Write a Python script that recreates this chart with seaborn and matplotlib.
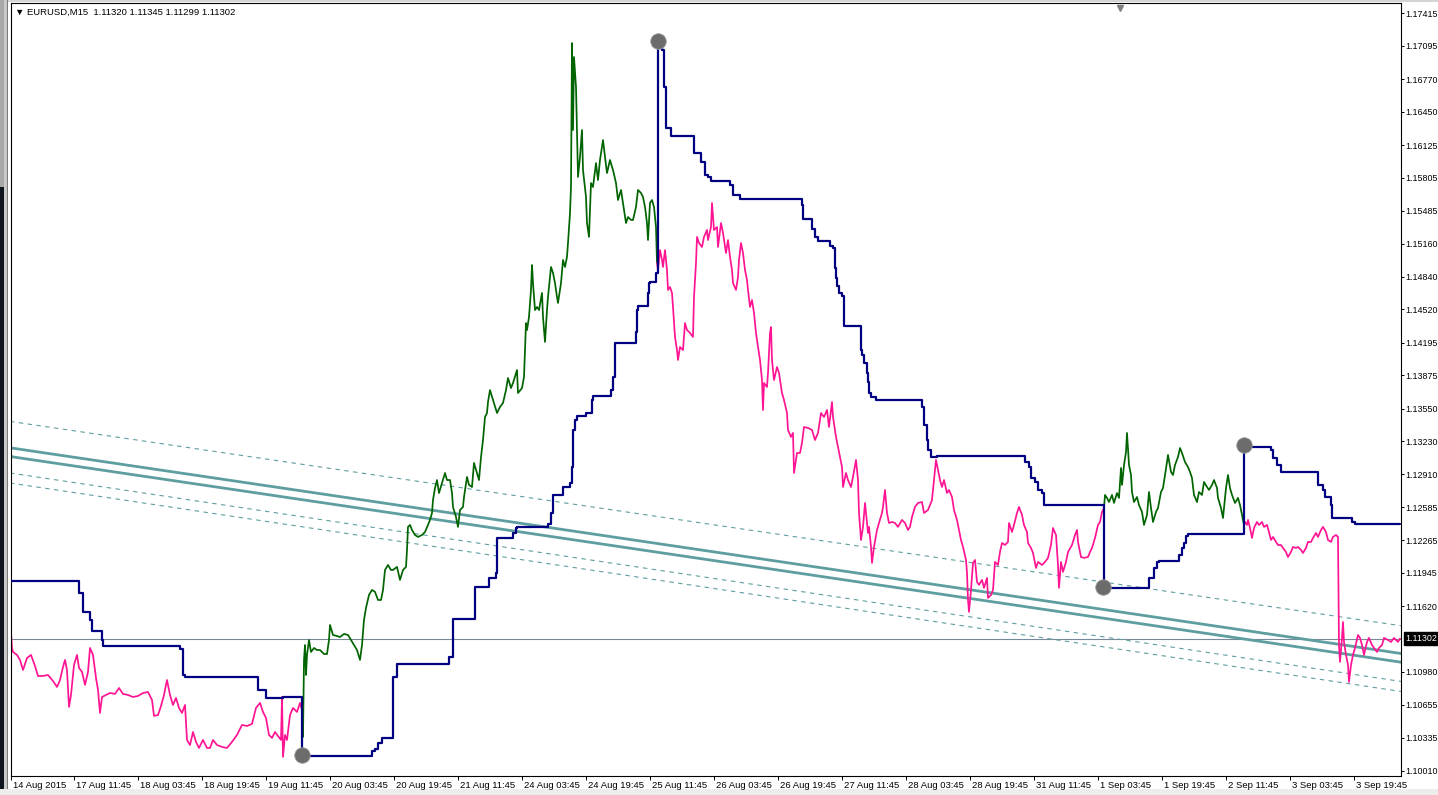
import matplotlib
matplotlib.use("Agg")
import matplotlib.pyplot as plt
import matplotlib.transforms as mtransforms
from matplotlib.patches import Rectangle
import pandas as pd
import seaborn as sns

# ---------------- data: (bar index, price) ----------------
down_leg_1 = [
    (1, 1.11367), (2, 1.11211), (3, 1.11172), (7, 1.11143), (10, 1.11094), (13, 1.10996), (17, 1.11113),
    (21, 1.11143), (25, 1.11035), (28, 1.10937), (33, 1.10937), (38, 1.10947), (43, 1.10888), (47, 1.10830),
    (50, 1.10898), (53, 1.11025), (55, 1.11094), (57, 1.10996), (59, 1.10635), (61, 1.10752), (64, 1.11045),
    (67, 1.11143), (69, 1.11016), (72, 1.10977), (75, 1.10850), (78, 1.10977), (80, 1.11211), (83, 1.11143),
    (86, 1.10918), (88, 1.10801), (90, 1.10576), (92, 1.10732), (96, 1.10752), (100, 1.10771), (105, 1.10762),
    (109, 1.10820), (113, 1.10762), (118, 1.10752), (123, 1.10732), (128, 1.10742), (133, 1.10771),
    (138, 1.10781), (142, 1.10703), (144, 1.10547), (148, 1.10556), (151, 1.10644), (154, 1.10752),
    (157, 1.10898), (160, 1.10752), (163, 1.10654), (166, 1.10723), (169, 1.10625), (172, 1.10576),
    (175, 1.10654), (177, 1.10312), (180, 1.10263), (183, 1.10390), (186, 1.10293), (189, 1.10234),
    (193, 1.10312), (197, 1.10234), (200, 1.10234), (203, 1.10312), (207, 1.10263), (212, 1.10244),
    (217, 1.10234), (222, 1.10293), (227, 1.10361), (232, 1.10459), (237, 1.10449), (242, 1.10469),
    (246, 1.10625), (250, 1.10674), (253, 1.10586), (256, 1.10527), (259, 1.10361), (262, 1.10332),
    (265, 1.10390), (268, 1.10351), (271, 1.10312), (272, 1.10732), (273, 1.10146), (275, 1.10361),
    (277, 1.10312), (280, 1.10556), (283, 1.10625), (287, 1.10586), (290, 1.10674), (292, 1.10605),
]

up_leg_1 = [
    (292, 1.10605), (293, 1.10342), (294, 1.11094), (295, 1.11240), (296, 1.10947), (297, 1.11143),
    (299, 1.11289), (301, 1.11172), (304, 1.11211), (307, 1.11191), (310, 1.11191), (314, 1.11152),
    (317, 1.11152), (319, 1.11289), (320, 1.11436), (323, 1.11338), (327, 1.11328), (330, 1.11318),
    (334, 1.11348), (338, 1.11338), (341, 1.11289), (344, 1.11240), (347, 1.11191), (350, 1.11094),
    (352, 1.11240), (354, 1.11485), (356, 1.11602), (359, 1.11729), (362, 1.11778), (365, 1.11759),
    (368, 1.11680), (371, 1.11680), (373, 1.11778), (375, 1.11973), (378, 1.12022), (381, 1.11973),
    (383, 1.11973), (387, 1.12003), (390, 1.11876), (393, 1.11973), (396, 1.12003), (397, 1.12169),
    (398, 1.12394), (400, 1.12413), (402, 1.12364), (405, 1.12315), (408, 1.12296), (412, 1.12315),
    (415, 1.12344), (418, 1.12413), (420, 1.12462), (422, 1.12530), (423, 1.12657), (425, 1.12774),
    (427, 1.12852), (429, 1.12725), (432, 1.12823), (435, 1.12921), (437, 1.12852), (440, 1.12852),
    (442, 1.12725), (443, 1.12589), (446, 1.12491), (448, 1.12394), (450, 1.12559), (453, 1.12589),
    (454, 1.12686), (457, 1.12882), (459, 1.12804), (462, 1.12784), (464, 1.13019), (467, 1.12921),
    (469, 1.12852), (471, 1.13077), (473, 1.13243), (475, 1.13468), (477, 1.13507), (478, 1.13614),
    (480, 1.13731), (483, 1.13634), (487, 1.13507), (490, 1.13566), (493, 1.13605), (496, 1.13731),
    (498, 1.13849), (501, 1.13751), (503, 1.13800), (507, 1.13927), (508, 1.13702), (512, 1.13751),
    (514, 1.13859), (516, 1.14386), (517, 1.14318), (519, 1.14445), (521, 1.14709), (522, 1.14953),
    (523, 1.14777), (525, 1.14513), (527, 1.14543), (529, 1.14513), (532, 1.14680), (533, 1.14445),
    (535, 1.14201), (537, 1.14513), (538, 1.14640), (541, 1.14934), (543, 1.14875), (545, 1.14777),
    (547, 1.14640), (548, 1.14582), (551, 1.14777), (553, 1.15002), (555, 1.14934), (557, 1.15032),
    (558, 1.15168), (560, 1.15461), (561, 1.15715), (562, 1.17122), (563, 1.16272), (564, 1.16985),
    (566, 1.16692), (567, 1.16272), (568, 1.15813), (570, 1.16008), (572, 1.16272), (573, 1.15881),
    (576, 1.15617), (577, 1.15363), (579, 1.15227), (581, 1.15754), (583, 1.15715), (586, 1.15949),
    (588, 1.15783), (590, 1.15979), (593, 1.16174), (595, 1.16008), (597, 1.15852), (600, 1.15979),
    (603, 1.15881), (606, 1.15754), (608, 1.15588), (611, 1.15686), (613, 1.15559), (616, 1.15363),
    (618, 1.15422), (621, 1.15393), (623, 1.15393), (626, 1.15520), (628, 1.15686), (631, 1.15657),
    (633, 1.15617), (635, 1.15520), (637, 1.15363), (638, 1.15197), (640, 1.15559), (642, 1.15588),
    (644, 1.15520), (646, 1.15324), (647, 1.14972),
]

down_leg_2 = [
    (647, 1.14972), (648, 1.14904), (650, 1.15099), (652, 1.15002), (653, 1.14934), (655, 1.15099),
    (657, 1.14904), (658, 1.14709), (660, 1.14738), (662, 1.14680), (663, 1.14543), (665, 1.14250),
    (667, 1.14122), (668, 1.14025), (670, 1.14152), (673, 1.14122), (675, 1.14386), (677, 1.14318),
    (680, 1.14289), (683, 1.14250), (684, 1.14640), (686, 1.14972), (687, 1.15227), (689, 1.15168),
    (692, 1.15129), (694, 1.15227), (697, 1.15295), (698, 1.15197), (701, 1.15324), (702, 1.15559),
    (704, 1.15295), (707, 1.15324), (708, 1.15129), (711, 1.15363), (713, 1.15266), (716, 1.15070),
    (718, 1.15197), (720, 1.15032), (722, 1.14904), (723, 1.14777), (726, 1.14709), (728, 1.14836),
    (729, 1.15002), (731, 1.15168), (733, 1.15070), (735, 1.14904), (737, 1.14806), (738, 1.14709),
    (740, 1.14543), (742, 1.14611), (744, 1.14484), (746, 1.14289), (748, 1.14152), (750, 1.14025),
    (752, 1.13829), (753, 1.13536), (754, 1.13800), (757, 1.13761), (758, 1.13898), (760, 1.14289),
    (761, 1.14347), (762, 1.14025), (764, 1.13829), (767, 1.13956), (769, 1.13898), (772, 1.13702),
    (774, 1.13634), (777, 1.13507), (778, 1.13341), (781, 1.13273), (783, 1.13312), (784, 1.12921),
    (787, 1.13116), (790, 1.13116), (792, 1.13214), (794, 1.13370), (798, 1.13361), (802, 1.13341),
    (805, 1.13243), (808, 1.13312), (811, 1.13507), (814, 1.13468), (817, 1.13536), (819, 1.13370),
    (822, 1.13614), (823, 1.13468), (826, 1.13273), (828, 1.13175), (830, 1.13077), (832, 1.12979),
    (833, 1.12784), (836, 1.12921), (838, 1.12852), (841, 1.12784), (843, 1.12882), (846, 1.13048),
    (848, 1.12852), (849, 1.12530), (851, 1.12266), (853, 1.12394), (855, 1.12628), (858, 1.12335),
    (859, 1.12394), (861, 1.12198), (862, 1.12042), (864, 1.12198), (867, 1.12364), (869, 1.12432),
    (872, 1.12530), (873, 1.12589), (875, 1.12755), (877, 1.12530), (879, 1.12432), (882, 1.12442),
    (885, 1.12432), (888, 1.12394), (892, 1.12462), (895, 1.12432), (898, 1.12364), (900, 1.12394),
    (902, 1.12491), (905, 1.12589), (908, 1.12628), (912, 1.12637), (914, 1.12530), (918, 1.12559),
    (920, 1.12608), (922, 1.12657), (924, 1.12852), (926, 1.13048), (928, 1.12950), (930, 1.12852),
    (932, 1.12784), (934, 1.12852), (937, 1.12725), (939, 1.12755), (942, 1.12686), (944, 1.12559),
    (947, 1.12462), (949, 1.12364), (951, 1.12266), (953, 1.12198), (956, 1.12071), (957, 1.11944),
    (958, 1.11680), (959, 1.11563), (961, 1.11778), (963, 1.12042), (965, 1.12071), (967, 1.11856),
    (969, 1.11827), (972, 1.11876), (974, 1.11798), (977, 1.11895), (978, 1.11700), (981, 1.11729),
    (983, 1.11778), (985, 1.12052), (988, 1.12022), (990, 1.12149), (992, 1.12237), (995, 1.12217),
    (998, 1.12247), (999, 1.12432), (1002, 1.12344), (1004, 1.12413), (1007, 1.12530), (1009, 1.12589),
    (1012, 1.12511), (1014, 1.12413), (1017, 1.12344), (1018, 1.12237), (1021, 1.12188), (1023, 1.12139),
    (1026, 1.11993), (1028, 1.12052), (1032, 1.12022), (1035, 1.12052), (1038, 1.12091), (1041, 1.12217),
    (1043, 1.12383), (1046, 1.12315), (1048, 1.12022), (1049, 1.11798), (1051, 1.12052), (1053, 1.11954),
    (1056, 1.12052), (1058, 1.12149), (1062, 1.12217), (1065, 1.12315), (1067, 1.12364), (1068, 1.12247),
    (1071, 1.12100), (1074, 1.12091), (1078, 1.12100), (1080, 1.12149), (1082, 1.12188), (1085, 1.12286),
    (1088, 1.12413), (1090, 1.12442), (1092, 1.12540), (1094, 1.12579),
]

up_leg_2 = [
    (1094, 1.12579), (1095, 1.12706), (1097, 1.12677), (1099, 1.12637), (1102, 1.12706), (1104, 1.12628),
    (1107, 1.12725), (1109, 1.12677), (1111, 1.12970), (1112, 1.12804), (1114, 1.12999), (1116, 1.13126),
    (1117, 1.13312), (1119, 1.12999), (1121, 1.12901), (1122, 1.12735), (1124, 1.12637), (1127, 1.12686),
    (1129, 1.12608), (1132, 1.12540), (1134, 1.12413), (1137, 1.12511), (1139, 1.12735), (1141, 1.12579),
    (1143, 1.12442), (1146, 1.12540), (1148, 1.12579), (1151, 1.12735), (1153, 1.12774), (1155, 1.12901),
    (1157, 1.13028), (1158, 1.13097), (1161, 1.12931), (1163, 1.12901), (1165, 1.12999), (1168, 1.13077),
    (1170, 1.13165), (1172, 1.13116), (1175, 1.13028), (1178, 1.12979), (1180, 1.12931), (1182, 1.12872),
    (1184, 1.12706), (1187, 1.12637), (1189, 1.12735), (1192, 1.12706), (1194, 1.12833), (1197, 1.12784),
    (1199, 1.12755), (1202, 1.12804), (1204, 1.12852), (1207, 1.12774), (1208, 1.12677), (1211, 1.12579),
    (1213, 1.12481), (1216, 1.12774), (1218, 1.12901), (1220, 1.12774), (1222, 1.12706), (1225, 1.12628),
    (1228, 1.12677), (1230, 1.12608), (1232, 1.12511), (1234, 1.12413),
]

down_leg_3 = [
    (1234, 1.12413), (1235, 1.12442), (1237, 1.12413), (1238, 1.12462), (1240, 1.12384), (1242, 1.12286),
    (1244, 1.12384), (1247, 1.12442), (1249, 1.12413), (1252, 1.12442), (1254, 1.12394), (1257, 1.12413),
    (1259, 1.12344), (1261, 1.12266), (1263, 1.12296), (1266, 1.12247), (1268, 1.12217), (1271, 1.12217),
    (1273, 1.12188), (1276, 1.12149), (1278, 1.12100), (1281, 1.12149), (1283, 1.12198), (1286, 1.12188),
    (1288, 1.12198), (1291, 1.12169), (1293, 1.12139), (1296, 1.12188), (1298, 1.12247), (1301, 1.12247),
    (1303, 1.12286), (1306, 1.12335), (1308, 1.12296), (1311, 1.12364), (1313, 1.12394), (1316, 1.12344),
    (1318, 1.12266), (1321, 1.12247), (1323, 1.12296), (1326, 1.12315), (1328, 1.12296), (1329, 1.11240),
    (1330, 1.11074), (1332, 1.11309), (1333, 1.11465), (1334, 1.11270), (1336, 1.11143), (1338, 1.11045),
    (1339, 1.10879), (1341, 1.11045), (1343, 1.11143), (1345, 1.11211), (1348, 1.11338), (1350, 1.11309),
    (1352, 1.11240), (1354, 1.11143), (1357, 1.11270), (1359, 1.11309), (1362, 1.11240), (1364, 1.11211),
    (1367, 1.11172), (1369, 1.11211), (1372, 1.11240), (1374, 1.11309), (1378, 1.11289), (1381, 1.11270),
    (1384, 1.11309), (1388, 1.11270), (1390, 1.11302),
]

# trailing stop (step line): (first bar of level, level)
stop_line = [
    (1, 1.11866), (69, 1.11748), (73, 1.11563), (80, 1.11485), (82, 1.11377), (92, 1.11289), (93, 1.11231),
    (170, 1.11201), (173, 1.10947), (175, 1.10928), (248, 1.10801), (256, 1.10723), (273, 1.10732),
    (292, 1.10156), (362, 1.10205), (365, 1.10224), (368, 1.10283), (372, 1.10332), (383, 1.10928),
    (387, 1.11055), (439, 1.11123), (443, 1.11494), (465, 1.11807), (479, 1.11895), (486, 1.11944),
    (487, 1.12286), (503, 1.12335), (506, 1.12384), (507, 1.12394), (538, 1.12423), (541, 1.12530),
    (543, 1.12706), (553, 1.12784), (560, 1.12823), (562, 1.12979), (563, 1.13341), (565, 1.13438),
    (567, 1.13478), (576, 1.13507), (582, 1.13634), (583, 1.13673), (601, 1.13731), (603, 1.13859),
    (605, 1.14191), (626, 1.14298), (627, 1.14513), (628, 1.14553), (638, 1.14680), (639, 1.14777),
    (640, 1.14787), (646, 1.14875), (648, 1.17122), (652, 1.17054), (654, 1.16692), (656, 1.16291),
    (661, 1.16213), (684, 1.16047), (691, 1.15959), (695, 1.15832), (698, 1.15813), (701, 1.15774),
    (720, 1.15735), (723, 1.15637), (730, 1.15598), (792, 1.15539), (793, 1.15402), (802, 1.15305),
    (805, 1.15227), (808, 1.15188), (820, 1.15139), (823, 1.15119), (825, 1.14924), (826, 1.14826),
    (827, 1.14748), (829, 1.14680), (832, 1.14650), (834, 1.14357), (851, 1.14122), (852, 1.14074),
    (854, 1.13996), (857, 1.13898), (858, 1.13810), (859, 1.13702), (861, 1.13663), (866, 1.13634),
    (912, 1.13566), (914, 1.13390), (917, 1.13243), (918, 1.13145), (921, 1.13077), (927, 1.13087),
    (1015, 1.13028), (1019, 1.12979), (1021, 1.12872), (1025, 1.12833), (1028, 1.12755), (1032, 1.12725),
    (1034, 1.12608), (1094, 1.11798), (1139, 1.11895), (1144, 1.11993), (1147, 1.12052), (1149, 1.12061),
    (1169, 1.12120), (1172, 1.12188), (1174, 1.12237), (1176, 1.12306), (1178, 1.12325), (1234, 1.13175),
    (1261, 1.13145), (1263, 1.13067), (1267, 1.12999), (1271, 1.12931), (1308, 1.12804), (1313, 1.12755),
    (1315, 1.12686), (1321, 1.12608), (1322, 1.12481), (1342, 1.12442), (1345, 1.12423), (1390, 1.12423),
]

reversal_bars = [292, 648, 1093, 1234]
reversal_prices = [1.10166, 1.17141, 1.11807, 1.13194]

channel_bars = [0, 1391]
channel_upper = [1.13167, 1.11157]
channel_lower = [1.13082, 1.11072]
band_upper = [1.13425, 1.11428]
band_lower_1 = [1.12921, 1.10884]
band_lower_2 = [1.12823, 1.10786]

current_price = 1.11302
header_text = "\u25bc EURUSD,M15  1.11320 1.11345 1.11299 1.11302"

x_tick_bars = [0.5] + [64 + 64 * k for k in range(21)]
x_tick_labels = ["14 Aug 2015", "17 Aug 11:45", "18 Aug 03:45", "18 Aug 19:45", "19 Aug 11:45",
                 "20 Aug 03:45", "20 Aug 19:45", "21 Aug 11:45", "24 Aug 03:45", "24 Aug 19:45",
                 "25 Aug 11:45", "26 Aug 03:45", "26 Aug 19:45", "27 Aug 11:45", "28 Aug 03:45",
                 "28 Aug 19:45", "31 Aug 11:45", "1 Sep 03:45", "1 Sep 19:45", "2 Sep 11:45",
                 "3 Sep 03:45", "3 Sep 19:45"]
y_tick_values = [1.17415, 1.17095, 1.16770, 1.16450, 1.16125, 1.15805, 1.15485, 1.15160, 1.14840,
                 1.14520, 1.14195, 1.13875, 1.13550, 1.13230, 1.12910, 1.12585, 1.12265, 1.11945,
                 1.11620, 1.10980, 1.10655, 1.10335, 1.10010]
shift_marker_bar = 1110

# ---------------- styling ----------------
PINK = "#FF1493"
GREEN = "#006400"
NAVY = "#000080"
TEAL = "#5F9EA0"
DOT = "#6C6C6C"
CUR = "#778899"

sns.set_theme(style="white")
plt.rcParams["font.family"] = ["Liberation Sans", "DejaVu Sans"]

W, H = 1438, 795
fig = plt.figure(figsize=(W / 100, H / 100), dpi=100)
fig.patch.set_facecolor("white")
ax = fig.add_axes([10.5 / W, 1 - 776 / H, 1390 / W, 773 / H])
ax.set_facecolor("white")


def frame_rect(x, y, w, h, color):
    fig.add_artist(Rectangle((x / W, 1 - (y + h) / H), w / W, h / H,
                             transform=fig.transFigure, color=color, lw=0, zorder=0))


# window decoration
frame_rect(0, 0, W, 2, "#d4d4d4")
frame_rect(0, 0, 4, 187, "#a8a8a8")
frame_rect(0, 187, 4, 608, "#0e151c")
frame_rect(4, 0, 3, H, "#c9c9c9")
frame_rect(7, 0, 1, H, "#7a7a7a")
frame_rect(0, 789, W, 6, "#ededed")

# current price line
ax.axhline(current_price, color=CUR, lw=0.8, zorder=0.5)

# channel lines
sns.lineplot(x=channel_bars, y=channel_upper, color=TEAL, lw=2.0, ax=ax, zorder=1)
sns.lineplot(x=channel_bars, y=channel_lower, color=TEAL, lw=2.0, ax=ax, zorder=1)
for band in (band_upper, band_lower_1, band_lower_2):
    ax.plot(channel_bars, band, color=TEAL, lw=0.8, dashes=(4, 4), zorder=1)

# price legs
legs = [("d1", down_leg_1), ("u1", up_leg_1), ("d2", down_leg_2), ("u2", up_leg_2), ("d3", down_leg_3)]
leg_colors = {"d1": PINK, "u1": GREEN, "d2": PINK, "u2": GREEN, "d3": PINK}
rows = [(name, b, p) for name, leg in legs for b, p in leg]
price_df = pd.DataFrame(rows, columns=["leg", "bar", "price"])
sns.lineplot(data=price_df, x="bar", y="price", hue="leg", palette=leg_colors, estimator=None,
             sort=False, legend=False, lw=1.25, ax=ax, zorder=2)

# trailing stop
stop_df = pd.DataFrame(stop_line, columns=["bar", "price"])
sns.lineplot(data=stop_df, x="bar", y="price", color=NAVY, lw=1.6, estimator=None, sort=False,
             drawstyle="steps-post", ax=ax, zorder=3)

# reversal dots
sns.scatterplot(x=reversal_bars, y=reversal_prices, s=125, color=DOT, edgecolor="#9c9c9c",
                linewidth=0.6, ax=ax, zorder=4, legend=False)

# axes
ax.set_xlim(0.5, 1390.5)
ax.set_ylim(1.09960, 1.17513)
ax.set_xlabel("")
ax.set_ylabel("")
ax.grid(False)
for sp in ax.spines.values():
    sp.set_color("black")
    sp.set_linewidth(0.8)

ax.set_xticks(x_tick_bars)
ax.set_xticklabels(x_tick_labels)
ax.tick_params(axis="x", direction="out", length=3, width=0.7, color="black",
               labelsize=6.8, labelcolor="black", pad=0.8, bottom=True)
shift = mtransforms.ScaledTranslation(2.5 / 100, 0, fig.dpi_scale_trans)
for lab in ax.get_xticklabels():
    lab.set_horizontalalignment("left")
    lab.set_transform(lab.get_transform() + shift)

ax.yaxis.tick_right()
ax.set_yticks(y_tick_values)
ax.set_yticklabels([f"{v:.5f}" for v in y_tick_values])
ax.tick_params(axis="y", direction="out", length=2, width=0.7, color="black",
               labelsize=6.4, labelcolor="black", pad=1.4, left=False, right=True,
               labelleft=False, labelright=True)

# current price tag
ax.annotate(f"{current_price:.5f}", xy=(1, current_price), xycoords=("axes fraction", "data"),
            xytext=(5, 0), textcoords="offset pixels", ha="left", va="center", color="white",
            fontsize=6.4, annotation_clip=False,
            bbox=dict(boxstyle="square,pad=0.2", fc="black", ec="black"))

# header
ax.text(0.0035, 0.988, header_text, transform=ax.transAxes, ha="left", va="center",
        fontsize=6.8, color="black")

# chart shift marker
ax.plot([shift_marker_bar], [0.994], marker="v", ms=4.5, color="#808080", lw=0,
        transform=mtransforms.blended_transform_factory(ax.transData, ax.transAxes), clip_on=False)

fig.savefig("out.png", dpi=100)
